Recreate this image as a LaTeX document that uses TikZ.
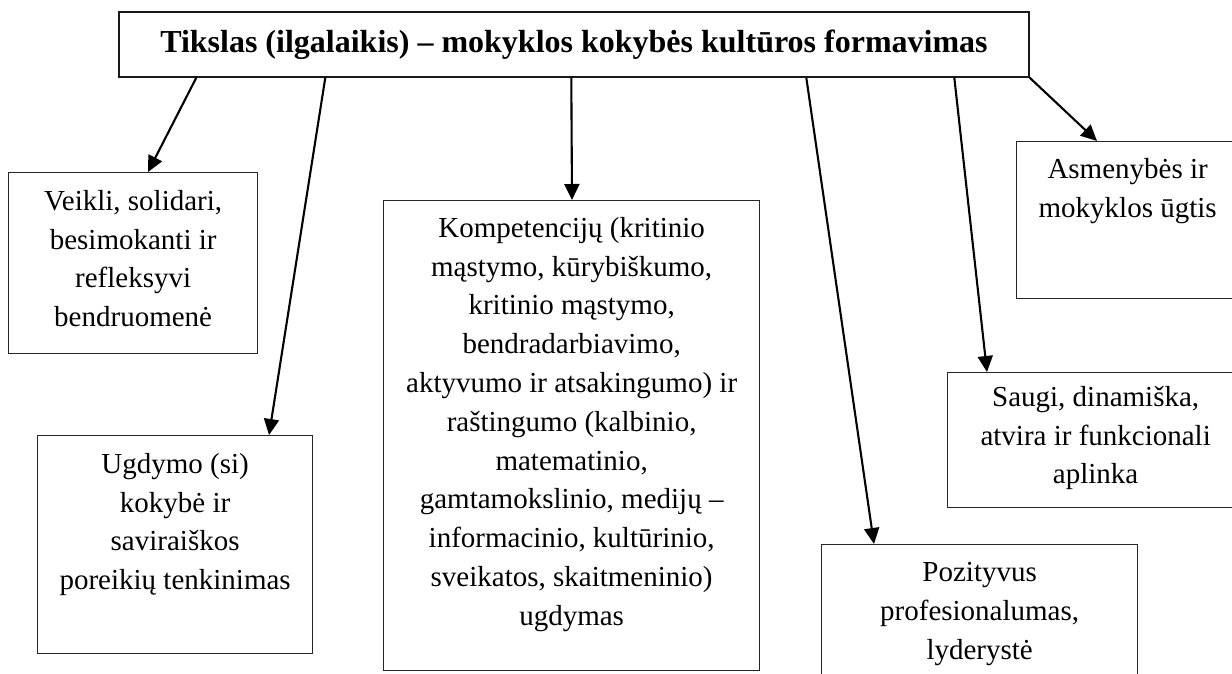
\documentclass[tikz,border=0pt]{standalone}
\usepackage{fontspec}
\setmainfont{Liberation Serif}
\usetikzlibrary{arrows.meta,calc}
\begin{document}
\begin{tikzpicture}[x=1pt,y=1pt,
  box/.style={draw=black!85, line width=1.3pt, inner sep=0pt, anchor=north west},
  txt/.style={align=center, inner sep=0pt, anchor=north, font=\fontsize{29}{38.8}\selectfont},
  arr/.style={line width=2.1pt, -{Triangle[length=16pt,width=15pt]}}]
\path[use as bounding box] (0,0) rectangle (1232,673);
\clip (0,0) rectangle (1232,673);
\fill[white] (0,0) rectangle (1232,673);
% title
\node[draw=black!90, line width=1.4pt, minimum width=910pt, minimum height=65pt, inner sep=0pt,
      font=\fontsize{32}{38}\selectfont\bfseries] (T) at (574,628.5)
  {Tikslas (ilgalaikis) – mokyklos kokybės kultūros formavimas};
% boxes
\node[box, minimum width=249pt, minimum height=181pt] (A) at (8,501) {};
\node[box, minimum width=275pt, minimum height=218pt] (B) at (37,238) {};
\node[box, minimum width=376pt, minimum height=470pt] (C) at (383,473) {};
\node[box, minimum width=316pt, minimum height=200pt] (D) at (821,129) {};
\node[box, minimum width=296pt, minimum height=135pt] (E) at (947,301) {};
\node[box, minimum width=222pt, minimum height=157pt] (F) at (1016,532) {};
% texts
\node[txt] (At) at ($(A.north)+(0,-18)$) {Veikli, solidari,\\besimokanti ir\\refleksyvi\\bendruomenė};
\node[txt] (Bt) at ($(B.north)+(0,-18)$) {Ugdymo (si)\\kokybė ir\\saviraiškos\\poreikių tenkinimas};
\node[txt] (Ct) at ($(C.north)+(0,-17)$) {Kompetencijų (kritinio\\mąstymo, kūrybiškumo,\\kritinio mąstymo,\\bendradarbiavimo,\\aktyvumo ir atsakingumo) ir\\raštingumo (kalbinio,\\matematinio,\\gamtamokslinio, medijų –\\informacinio, kultūrinio,\\sveikatos, skaitmeninio)\\ugdymas};
\node[txt] (Dt) at ($(D.north)+(0,-18)$) {Pozityvus\\profesionalumas,\\lyderystė};
\node[txt] (Et) at ($(E.north)+(0,-14)$) {Saugi, dinamiška,\\atvira ir funkcionali\\aplinka};
\node[txt] (Ft) at ($(F.north)+(0,-17)$) {Asmenybės ir\\mokyklos ūgtis};
% arrows
\draw[arr] ($(T.south west)+(78,0)$) -- ($(A.north west)+(140,0)$);
\draw[arr] ($(T.south west)+(207,0)$) -- ($(B.north west)+(232,0)$);
\draw[arr] ($(T.south west)+(453,0)$) -- ($(C.north west)+(189,0)$);
\draw[arr] ($(T.south west)+(688,0)$) -- ($(D.north west)+(53,0)$);
\draw[arr] ($(T.south west)+(836,0)$) -- ($(E.north west)+(40,0)$);
\draw[arr] (T.south east) -- ($(F.north west)+(81,0)$);
\end{tikzpicture}
\end{document}
